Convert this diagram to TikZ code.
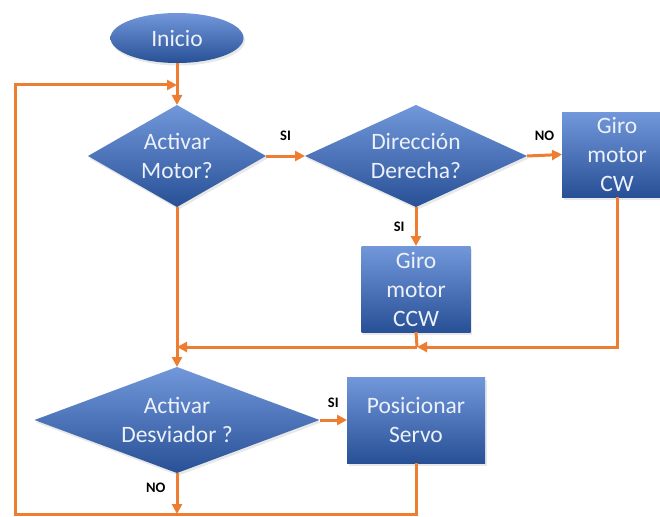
\documentclass[tikz,border=0pt]{standalone}
\usepackage{fontspec}
\setmainfont{Carlito}
\usetikzlibrary{shapes.geometric,arrows.meta,shadows}
\definecolor{orng}{RGB}{237,125,49}
\definecolor{btop}{RGB}{114,152,219}
\definecolor{bbot}{RGB}{40,80,150}
\definecolor{txt}{RGB}{236,241,250}
\tikzset{
  shp/.style={top color=btop, bottom color=bbot, draw=none, inner sep=0pt, outer sep=0pt,
    text=txt, align=center, font=\fontsize{23.5}{29}\selectfont,
    drop shadow={opacity=0.18, shadow xshift=1.5pt, shadow yshift=-2.5pt}},
  startbox/.style={shp, ellipse},
  decbox/.style={shp, diamond},
  procbox/.style={shp, rectangle},
  conn/.style={draw=orng, line width=3pt},
  arr/.style={conn, -{Triangle[length=10pt,width=10pt]}},
  lbl/.style={font=\bfseries\fontsize{14.5}{16}\selectfont, text=black, inner sep=0pt}
}
\begin{document}
\begin{tikzpicture}[x=1pt,y=-1pt]
\useasboundingbox (0,0) rectangle (660,516);
\node[startbox, minimum width=133, minimum height=50] (inicio) at (177,38) {Inicio};
\node[decbox, aspect=1.745, minimum width=178, minimum height=102] (d1) at (177,156) {Activar\\Motor?};
\node[decbox, aspect=2.18, minimum width=222, minimum height=102] (d2) at (416,156) {Dirección\\Derecha?};
\node[procbox, minimum width=110, minimum height=85] (cw) at (617,154.5) {Giro\\motor\\CW};
\node[procbox, minimum width=109, minimum height=86] (ccw) at (416,289) {Giro\\motor\\CCW};
\node[decbox, aspect=2.69, minimum width=285, minimum height=106] (d3) at (177,420) {Activar\\Desviador ?};
\node[procbox, minimum width=138, minimum height=86] (servo) at (416,420) {Posicionar\\Servo};

\coordinate (j0) at (177,85);
\coordinate (bl) at (15,514);
\coordinate (j1) at (177,347);
\coordinate (j2) at (417,347);

\draw[arr] (inicio.south) -- (d1.north);
\draw[arr] (servo.south) |- (bl) |- (j0);
\draw[arr] (d1.east) -- (d2.west) node[lbl, midway, above=14pt] {SI};
\draw[arr] (d2.east) -- (cw.west) node[lbl, midway, above=13pt] {NO};
\draw[arr] (d2.south) -- (ccw.north) node[lbl, midway, left=10pt] {SI};
\draw[conn] (ccw.south) -- (j2);
\draw[arr] (cw.south) |- (j2);
\draw[arr] (j2) -- (j1);
\draw[arr] (d1.south) -- (d3.north);
\draw[arr] (d3.east) -- (servo.west) node[lbl, midway, above=11pt] {SI};
\draw[arr] (d3.south) -- (d3.south |- bl) node[lbl, pos=0.35, left=10pt] {NO};
\end{tikzpicture}
\end{document}
